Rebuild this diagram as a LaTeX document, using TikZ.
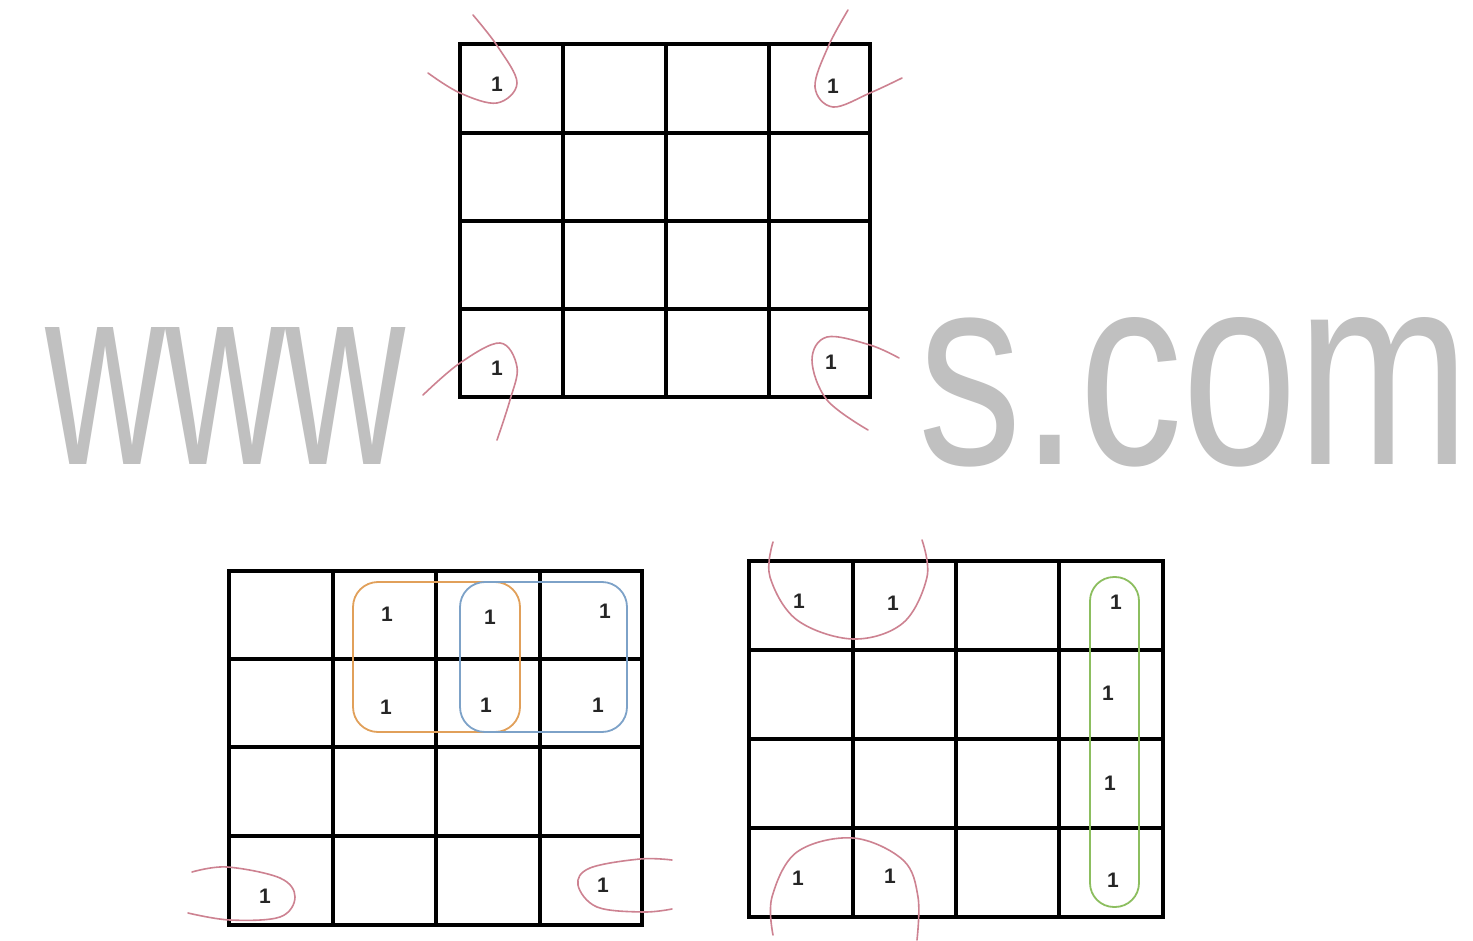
\documentclass[tikz,border=0pt]{standalone}
\usepackage{fontspec}
\setmainfont{Liberation Sans}
\definecolor{loopc}{RGB}{205,130,145}
\definecolor{orangec}{RGB}{225,160,90}
\definecolor{bluec}{RGB}{125,162,200}
\definecolor{greenc}{RGB}{140,190,95}
\definecolor{wmark}{RGB}{192,192,192}
\begin{document}
\begin{tikzpicture}[x=1pt,y=-1pt,
  gridline/.style={line width=3.4pt, black},
  loopline/.style={draw=loopc, line width=1.6pt, line cap=round},
  group/.style={line width=1.8pt, rounded corners=25pt},
  one/.style={font=\fontsize{21}{21}\selectfont\bfseries, inner sep=0pt, text=black!85},
  wm/.style={text=wmark, inner sep=0pt, font=\fontsize{100}{100}\selectfont}]
\useasboundingbox (0,0) rectangle (1473,941);
\fill[white] (0,0) rectangle (1473,941);

% watermark
\node[wm, anchor=south west] (wmL) at (45,465) {\resizebox{360pt}{137pt}{www}};
\node[wm, anchor=south west] (wmR) at (918,467) {\resizebox{552pt}{147pt}{s.com}};

% ---------- top map ----------
\foreach \x in {563,666,769} \draw[gridline] (\x,44) -- (\x,397);
\foreach \y in {133,221,309} \draw[gridline] (460,\y) -- (870,\y);
\draw[gridline] (460,44) rectangle (870,397);
\node[one] (t1) at (497,84) {1};
\node[one] (t2) at (833,86) {1};
\node[one] (t3) at (497,368) {1};
\node[one] (t4) at (831,362) {1};
\draw[loopline] plot[smooth, tension=0.6] coordinates {(473,15) (498,47) (517,83) (497,103) (460,93) (428,73)};
\draw[loopline] plot[smooth, tension=0.6] coordinates {(848,10) (828,47) (815,87) (833,107) (870,93) (902,78)};
\draw[loopline] plot[smooth, tension=0.6] coordinates {(423,395) (460,363) (500,343) (517,367) (510,400) (497,440)};
\draw[loopline] plot[smooth, tension=0.6] coordinates {(899,358) (870,345) (827,337) (812,360) (827,400) (868,430)};

% ---------- bottom-left map ----------
\foreach \x in {333,436,540} \draw[gridline] (\x,571) -- (\x,925);
\foreach \y in {659,747,836} \draw[gridline] (229,\y) -- (642,\y);
\draw[gridline] (229,571) rectangle (642,925);
\draw[group, draw=orangec] (353,582) rectangle (520,732);
\draw[group, draw=bluec] (460,582) rectangle (627,732);
\node[one] (a1) at (387,614) {1};
\node[one] (a2) at (490,617) {1};
\node[one] (a3) at (605,611) {1};
\node[one] (a4) at (386,707) {1};
\node[one] (a5) at (486,705) {1};
\node[one] (a6) at (598,705) {1};
\node[one] (a7) at (265,896) {1};
\node[one] (a8) at (603,885) {1};
\draw[loopline] plot[smooth, tension=0.6] coordinates {(192,872) (227,867) (280,878) (295,897) (280,917) (230,920) (188,913)};
\draw[loopline] plot[smooth, tension=0.6] coordinates {(672,860) (640,859) (590,868) (578,885) (597,907) (643,912) (672,909)};

% ---------- bottom-right map ----------
\foreach \x in {853,956,1059} \draw[gridline] (\x,561) -- (\x,917);
\foreach \y in {650,739,828} \draw[gridline] (749,\y) -- (1163,\y);
\draw[gridline] (749,561) rectangle (1163,917);
\draw[line width=1.8pt, draw=greenc, rounded corners=24pt] (1090,577) rectangle (1139,907);
\node[one] (b1) at (799,601) {1};
\node[one] (b2) at (893,603) {1};
\node[one] (b3) at (1116,602) {1};
\node[one] (b4) at (1108,693) {1};
\node[one] (b5) at (1110,783) {1};
\node[one] (b6) at (1113,880) {1};
\node[one] (b7) at (798,878) {1};
\node[one] (b8) at (890,876) {1};
\draw[loopline] plot[smooth, tension=0.6] coordinates {(773,542) (770,577) (797,620) (853,639) (903,623) (927,577) (922,540)};
\draw[loopline] plot[smooth, tension=0.6] coordinates {(773,935) (772,897) (797,852) (853,838) (903,860) (918,897) (917,940)};
\end{tikzpicture}
\end{document}
